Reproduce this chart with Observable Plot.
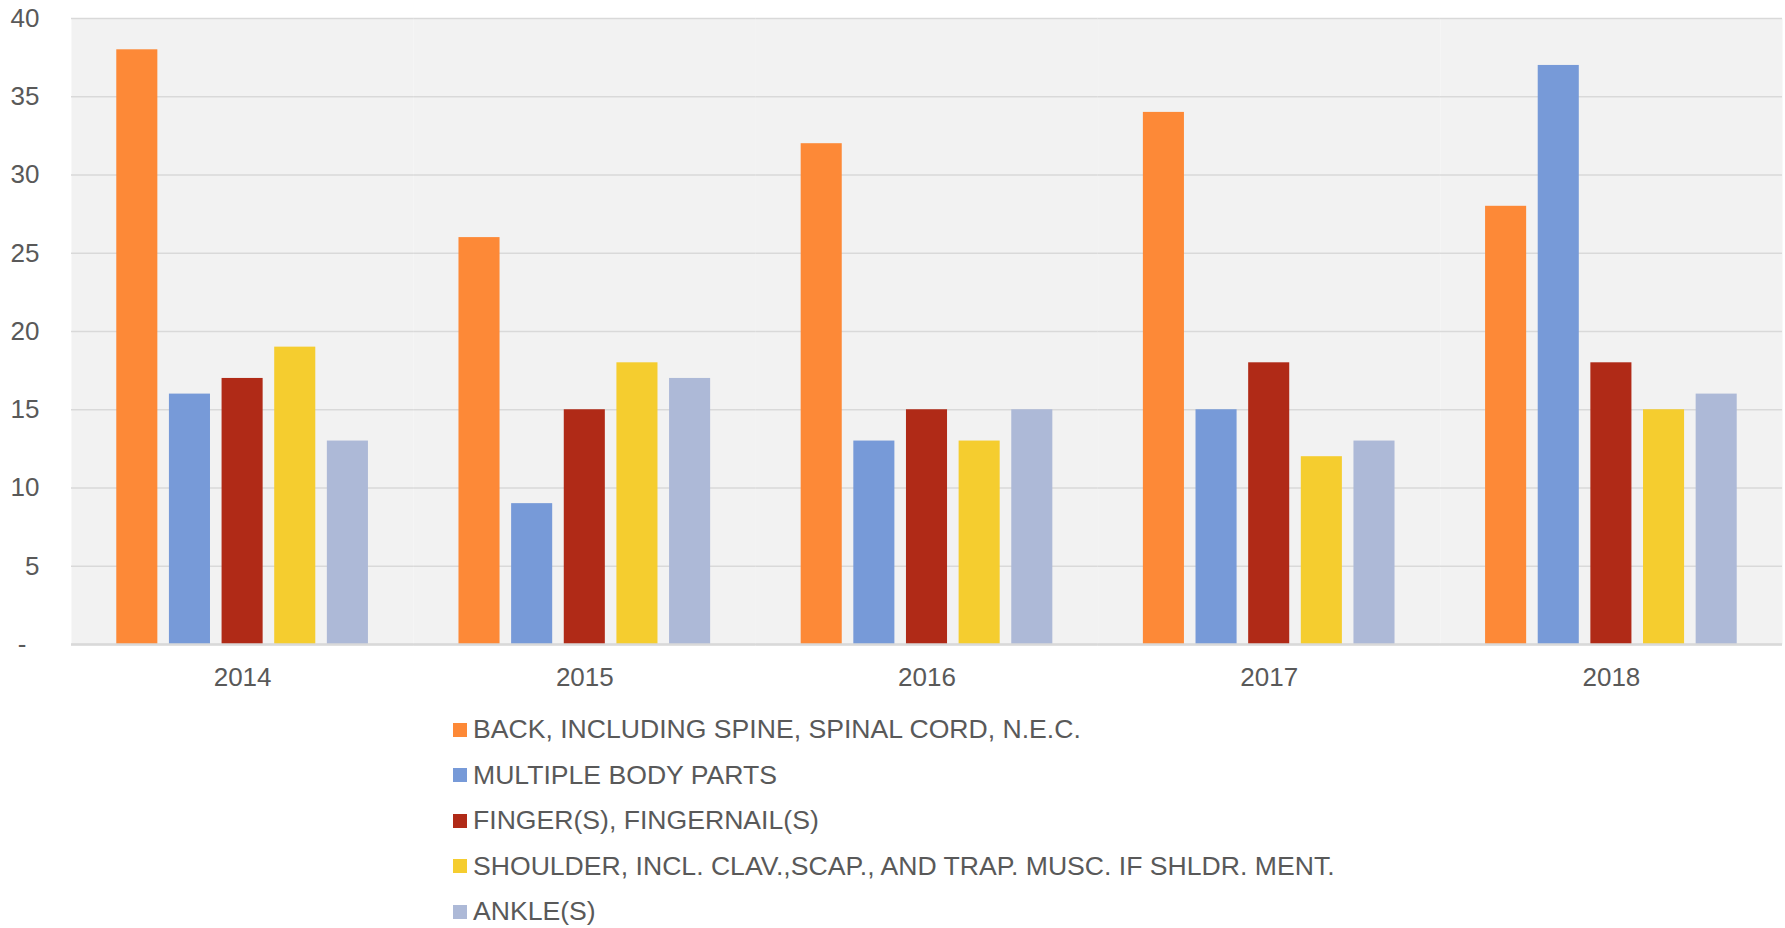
<!DOCTYPE html>
<html>
<head>
<meta charset="utf-8">
<script src="https://cdn.jsdelivr.net/npm/d3@7"></script>
<script src="https://cdn.jsdelivr.net/npm/@observablehq/plot@0.6"></script>
<style>
  html, body { margin: 0; padding: 0; background: #ffffff; }
  body { width: 1785px; height: 928px; overflow: hidden; font-family: "Liberation Sans", Arial, sans-serif; }
  #legend { position: relative; margin: 0; padding-left: 453px; padding-top: 1px; }
  .row { display: flex; align-items: center; height: 45.5px; font-size: 26.6px; color: #595959; white-space: nowrap; }
  .sw { width: 14px; height: 14px; margin-right: 6px; flex: none; }
</style>
</head>
<body>
<div id="chart"></div>
<div id="legend"></div>
<script>
const years = ["2014", "2015", "2016", "2017", "2018"];
const categories = [
  "BACK, INCLUDING SPINE, SPINAL CORD, N.E.C.",
  "MULTIPLE BODY PARTS",
  "FINGER(S), FINGERNAIL(S)",
  "SHOULDER, INCL. CLAV.,SCAP., AND TRAP. MUSC. IF SHLDR. MENT.",
  "ANKLE(S)"
];
const back = [38, 26, 32, 34, 28];
const multiple = [16, 9, 13, 15, 37];
const finger = [17, 15, 15, 18, 18];
const shoulder = [19, 18, 13, 12, 15];
const ankle = [13, 17, 15, 13, 16];
const colors = ["#FD8937", "#779AD8", "#B02A17", "#F5CD2F", "#ADB9D7"];
const yTicks = [0, 5, 10, 15, 20, 25, 30, 35, 40];

const series = [back, multiple, finger, shoulder, ankle];
const data = [];
years.forEach((yr, i) => {
  categories.forEach((c, j) => {
    data.push({year: yr, cat: c, value: series[j][i]});
  });
});

const textColor = "#595959";
const chart = Plot.plot({
  width: 1785,
  height: 706,
  marginLeft: 71,
  marginRight: 3,
  marginTop: 18,
  marginBottom: 62,
  style: {fontFamily: "'Liberation Sans', Arial, sans-serif", color: textColor, background: "transparent"},
  fx: {domain: years, padding: 0, round: false},
  x: {domain: categories, paddingInner: 0.22, paddingOuter: 0.86, axis: null, round: false},
  y: {domain: [0, 40]},
  color: {domain: categories, range: colors},
  marks: [
    Plot.frame({fill: "#F2F2F2", stroke: null}),
    Plot.gridY(yTicks, {stroke: "#D9D9D9", strokeOpacity: 1, strokeWidth: 1.5}),
    Plot.barY(data, {fx: "year", x: "cat", y: "value", fill: "cat"}),
    Plot.ruleY([0], {stroke: "#D9D9D9", strokeWidth: 2.5}),
    Plot.axisY(yTicks, {tickSize: 0, tickPadding: 32, fontSize: 26, fill: textColor,
      tickFormat: d => d === 0 ? "-\u2002" : String(d), label: null}),
    Plot.axisFx({anchor: "bottom", tickSize: 0, tickPadding: 23, fontSize: 26, fill: textColor, label: null})
  ]
});
document.getElementById("chart").appendChild(chart);

const legend = document.getElementById("legend");
categories.forEach((c, j) => {
  const row = document.createElement("div");
  row.className = "row";
  const sw = document.createElement("span");
  sw.className = "sw";
  sw.style.background = colors[j];
  const t = document.createElement("span");
  t.textContent = c;
  row.appendChild(sw);
  row.appendChild(t);
  legend.appendChild(row);
});
</script>
</body>
</html>
